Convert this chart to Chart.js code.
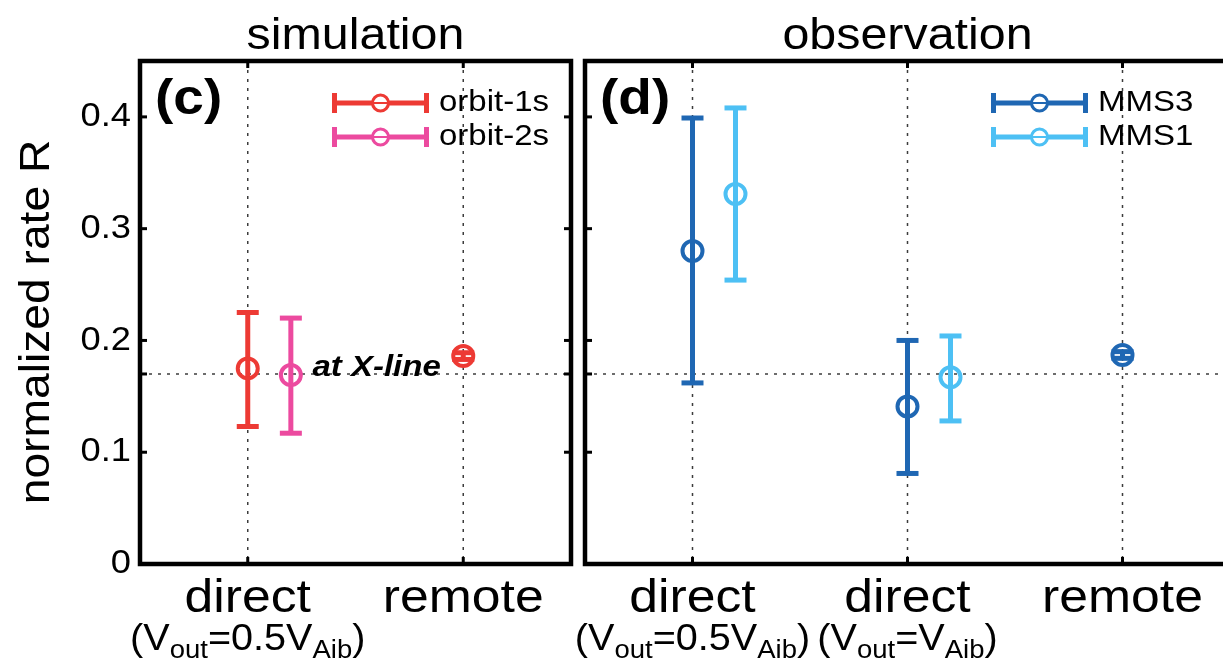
<!DOCTYPE html>
<html>
<head>
<meta charset="utf-8">
<script src="https://cdn.jsdelivr.net/npm/chart.js@4/dist/chart.umd.min.js"></script>
<style>
  html, body { margin: 0; padding: 0; background: #fff; overflow: hidden; }
  #wrap { position: relative; width: 1223px; height: 662px; overflow: hidden; background: #fff; }
  canvas { position: absolute; top: 0; }
</style>
</head>
<body>
<div id="wrap">
  <canvas id="sim" width="580" height="662" style="left:0"></canvas>
  <canvas id="obs" width="700" height="662" style="left:540px"></canvas>
</div>
<script>
// ---- simulation panel (c) ----
const simCategories = ['direct', 'remote'];
const simConditions = ['(V_{out}=0.5V_{Aib})', ''];
const orbit1sRate = [0.175, 0.186];
const orbit1sLow  = [0.123, 0.183];
const orbit1sHigh = [0.225, 0.189];
const orbit2sRate = [0.169];
const orbit2sLow  = [0.117];
const orbit2sHigh = [0.220];

// ---- observation panel (d) ----
const obsCategories = ['direct', 'direct', 'remote'];
const obsConditions = ['(V_{out}=0.5V_{Aib})', '(V_{out}=V_{Aib})', ''];
const mms3Rate = [0.280, 0.141, 0.187];
const mms3Low  = [0.162, 0.081, 0.184];
const mms3High = [0.399, 0.200, 0.190];
const mms1Rate = [0.331, 0.167];
const mms1Low  = [0.254, 0.128];
const mms1High = [0.408, 0.204];

// ---- shared axis ----
const rateTicks = [0, 0.1, 0.2, 0.3, 0.4];
const xLineRate = 0.17;
const rateMax = 0.45;

const FONT = '"Liberation Sans", Arial, Helvetica, sans-serif';
const STRETCH = 1.1;   // the lettering is set slightly wide

function line(ctx, x1, y1, x2, y2) {
  ctx.beginPath(); ctx.moveTo(x1, y1); ctx.lineTo(x2, y2); ctx.stroke();
}

function text(ctx, str, x, y, size, opt = {}) {
  ctx.save();
  ctx.font = `${opt.style || 'normal'} ${opt.weight || 'normal'} ${size}px ${FONT}`;
  ctx.fillStyle = '#000';
  ctx.textBaseline = opt.baseline || 'alphabetic';
  ctx.textAlign = opt.align || 'left';
  ctx.translate(x, y);
  if (opt.rotate) ctx.rotate(opt.rotate);
  ctx.scale(STRETCH, 1);
  ctx.fillText(str, 0, 0);
  ctx.restore();
}

// text with _{...} subscripts, centred on cx
function condition(ctx, str, cx, y, size, subSize) {
  const parts = [];
  const re = /_\{([^}]*)\}/g;
  let last = 0, m;
  while ((m = re.exec(str))) {
    if (m.index > last) parts.push({ t: str.slice(last, m.index), sub: false });
    parts.push({ t: m[1], sub: true });
    last = re.lastIndex;
  }
  if (last < str.length) parts.push({ t: str.slice(last), sub: false });
  ctx.save();
  let w = 0;
  parts.forEach(p => {
    ctx.font = `${p.sub ? subSize : size}px ${FONT}`;
    p.w = ctx.measureText(p.t).width * STRETCH;
    w += p.w;
  });
  ctx.restore();
  let x = cx - w / 2;
  parts.forEach(p => {
    text(ctx, p.t, x, p.sub ? y + 8 : y, p.sub ? subSize : size);
    x += p.w;
  });
}

function series(label, color, values, low, high, shift) {
  return {
    label,
    data: values.map((v, i) => ({ x: i + 1 + shift, y: v })),
    low, high,
    borderColor: color,
    backgroundColor: 'rgba(0,0,0,0)',
    pointStyle: 'circle',
    pointRadius: 10,
    pointHoverRadius: 10,
    pointBorderWidth: 4,
    showLine: false
  };
}

const panelDecor = {
  id: 'panelDecor',
  beforeDatasetsDraw(chart, args, o) {
    const { ctx, chartArea: a, scales: { x, y } } = chart;
    ctx.save();
    // dotted guides at the categories and at the X-line rate
    ctx.strokeStyle = '#3c3c3c';
    ctx.lineWidth = 1.5;
    ctx.setLineDash([3, 6]);
    o.categories.forEach((c, i) => {
      const px = x.getPixelForValue(i + 1);
      line(ctx, px, a.top, px, a.bottom);
    });
    const py = y.getPixelForValue(xLineRate);
    line(ctx, a.left, py, a.right, py);
    ctx.setLineDash([]);
    // error bars
    ctx.lineCap = 'butt';
    chart.data.datasets.forEach(ds => {
      ctx.strokeStyle = ds.borderColor;
      ctx.lineWidth = 5;
      ds.data.forEach((p, i) => {
        const px = x.getPixelForValue(p.x);
        const lo = y.getPixelForValue(ds.low[i]);
        const hi = y.getPixelForValue(ds.high[i]);
        line(ctx, px, lo, px, hi);
        line(ctx, px - 11, lo, px + 11, lo);
        line(ctx, px - 11, hi, px + 11, hi);
      });
    });
    ctx.restore();
  },
  afterDatasetsDraw(chart, args, o) {
    const { ctx, chartArea: a, scales: { x, y } } = chart;
    ctx.save();
    // frame
    ctx.strokeStyle = '#000';
    ctx.lineWidth = 4.5;
    ctx.strokeRect(a.left, a.top, a.right - a.left, a.bottom - a.top);
    // inward ticks
    ctx.lineWidth = 3;
    const tl = 7;
    rateTicks.concat([xLineRate]).forEach(v => {
      if (v === 0) return;
      const py = y.getPixelForValue(v);
      line(ctx, a.left, py, a.left + tl, py);
      line(ctx, a.right, py, a.right - tl, py);
    });
    o.categories.forEach((c, i) => {
      const px = x.getPixelForValue(i + 1);
      line(ctx, px, a.top, px, a.top + tl);
      line(ctx, px, a.bottom, px, a.bottom - tl);
    });
    ctx.restore();

    // category labels
    o.categories.forEach((c, i) => {
      const px = x.getPixelForValue(i + 1);
      text(ctx, c, px, 612, 47, { align: 'center' });
      if (o.conditions[i]) condition(ctx, o.conditions[i], px, 650, 36, 25);
    });

    // rate axis labels and title
    if (o.rateLabels) {
      rateTicks.forEach(v => {
        text(ctx, String(v), a.left - 9, y.getPixelForValue(v), 33, { align: 'right', baseline: 'middle' });
      });
      text(ctx, 'normalized rate R', 37, 322, 42, { align: 'center', baseline: 'middle', rotate: -Math.PI / 2 });
    }

    // panel title and tag
    text(ctx, o.title, (a.left + a.right) / 2, 49, 44, { align: 'center' });
    text(ctx, o.tag, a.left + 15, 114, 50, { weight: 'bold' });

    // note at the X-line level
    if (o.note) {
      text(ctx, o.note, x.getPixelForValue(1.3), y.getPixelForValue(xLineRate) + 2, 30, { style: 'italic', weight: 'bold' });
    }

    // legend with error-bar keys
    const lx = a.right - 239;
    chart.data.datasets.forEach((ds, i) => {
      const ly = a.top + 42 + i * 34;
      ctx.save();
      ctx.strokeStyle = ds.borderColor;
      ctx.lineWidth = 5;
      line(ctx, lx, ly, lx + 97, ly);
      line(ctx, lx + 2.5, ly - 10, lx + 2.5, ly + 10);
      line(ctx, lx + 94.5, ly - 10, lx + 94.5, ly + 10);
      ctx.lineWidth = 3;
      ctx.fillStyle = '#fff';
      ctx.beginPath();
      ctx.arc(lx + 48.5, ly, 8, 0, Math.PI * 2);
      ctx.fill();
      ctx.stroke();
      ctx.lineWidth = 2;
      line(ctx, lx + 40, ly, lx + 57, ly);
      ctx.restore();
      text(ctx, ds.label, lx + 107, ly, 30, { baseline: 'middle' });
    });
  }
};

function makeChart(id, datasets, deco, yWidth, padRight) {
  return new Chart(document.getElementById(id), {
    type: 'scatter',
    data: { datasets },
    options: {
      responsive: false,
      animation: false,
      events: [],
      devicePixelRatio: 1,
      layout: { autoPadding: false, padding: { top: 61, right: padRight, left: 0, bottom: 0 } },
      scales: {
        x: {
          type: 'linear', min: 0.5, max: deco.categories.length + 0.5,
          ticks: { display: false }, grid: { display: false }, border: { display: false },
          afterFit: s => { s.height = 98; s.paddingLeft = 0; s.paddingRight = 0; }
        },
        y: {
          type: 'linear', min: 0, max: rateMax,
          ticks: { display: false }, grid: { display: false }, border: { display: false },
          afterFit: s => { s.width = yWidth; s.paddingTop = 0; s.paddingBottom = 0; }
        }
      },
      plugins: { legend: { display: false }, tooltip: { enabled: false }, panelDecor: deco }
    },
    plugins: [panelDecor]
  });
}

makeChart('sim', [
  series('orbit-1s', '#ED3A34', orbit1sRate, orbit1sLow, orbit1sHigh, 0),
  series('orbit-2s', '#EC4A9F', orbit2sRate, orbit2sLow, orbit2sHigh, 0.2)
], {
  categories: simCategories, conditions: simConditions,
  title: 'simulation', tag: '(c)', note: 'at X-line', rateLabels: true
}, 140, 9);

makeChart('obs', [
  series('MMS3', '#1F67B3', mms3Rate, mms3Low, mms3High, 0),
  series('MMS1', '#4DC0F4', mms1Rate, mms1Low, mms1High, 0.2)
], {
  categories: obsCategories, conditions: obsConditions,
  title: 'observation', tag: '(d)', rateLabels: false
}, 45, 10);
</script>
</body>
</html>
